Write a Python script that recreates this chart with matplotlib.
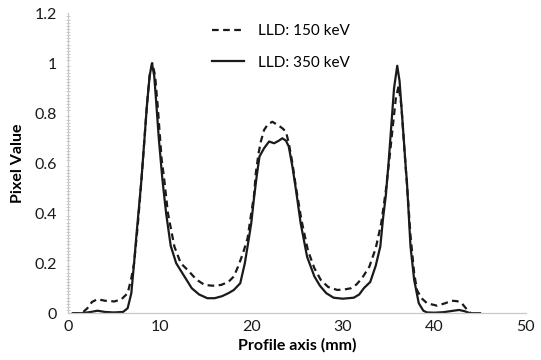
import numpy as np
import matplotlib
matplotlib.use('Agg')
from matplotlib import pyplot as plt
from matplotlib.ticker import MultipleLocator

plt.rcParams['font.family'] = ['Lato', 'DejaVu Sans']

# profile positions (mm) and pixel values, LLD 350 keV
x_350 = [0.5, 1.5, 2.5, 3.2, 4.0, 5.0, 6.0, 6.5, 6.9, 7.2, 7.5, 7.8, 8.0, 8.3, 8.6,
         8.9, 9.15, 9.4, 9.6, 9.9, 10.3, 10.7, 11.2, 11.8, 12.7, 13.5, 14.3, 15.2,
         16.0, 16.8, 17.5, 18.1, 18.8, 19.3, 19.7, 20.0, 20.3, 20.6, 20.9, 21.4,
         21.95, 22.5, 23.0, 23.4, 23.8, 24.1, 24.5, 24.9, 25.4, 26.1, 26.9, 27.5,
         28.2, 29.0, 30.0, 31.2, 31.8, 32.3, 33.0, 33.6, 34.1, 34.4, 34.7, 35.0,
         35.3, 35.6, 35.95, 36.2, 36.5, 36.9, 37.0, 37.4, 37.8, 38.3, 38.8, 39.2,
         40.0, 41.0, 42.1, 42.7, 43.3, 43.9, 45.0]
y_350 = [0.0, 0.0, 0.005, 0.01, 0.005, 0.003, 0.005, 0.02, 0.08, 0.2, 0.33, 0.45,
         0.533, 0.68, 0.83, 0.95, 1.0, 0.95, 0.853, 0.7, 0.533, 0.4, 0.27, 0.2,
         0.147, 0.1, 0.075, 0.06, 0.06, 0.068, 0.08, 0.093, 0.12, 0.2, 0.29, 0.36,
         0.46, 0.55, 0.627, 0.66, 0.687, 0.68, 0.69, 0.70, 0.69, 0.667, 0.586,
         0.49, 0.36, 0.226, 0.147, 0.11, 0.08, 0.062, 0.058, 0.062, 0.075, 0.1,
         0.125, 0.19, 0.267, 0.38, 0.47, 0.6, 0.75, 0.9, 0.99, 0.93, 0.78, 0.573,
         0.53, 0.267, 0.133, 0.04, 0.01, 0.003, 0.002, 0.004, 0.01, 0.013, 0.008,
         0.0, 0.0]

# LLD 150 keV
x_150 = [0.5, 1.5, 2.1, 2.6, 3.2, 4.0, 5.05, 5.8, 6.5, 6.9, 7.2, 7.6, 8.0, 8.3,
         8.6, 8.9, 9.2, 9.5, 9.8, 10.2, 10.5, 10.9, 11.6, 12.3, 13.05, 14.0, 14.9,
         15.8, 16.7, 17.5, 18.1, 18.6, 19.1, 19.6, 20.0, 20.3, 20.5, 20.8, 21.05,
         21.4, 21.8, 22.3, 22.9, 23.4, 23.8, 24.1, 24.5, 24.9, 25.5, 26.2, 26.9,
         27.6, 28.4, 29.4, 30.2, 30.9, 31.5, 32.1, 32.9, 33.6, 34.2, 34.7, 35.1,
         35.5, 35.8, 36.1, 36.4, 36.8, 37.1, 37.4, 37.8, 38.1, 38.6, 39.2, 40.3,
         41.2, 41.9, 42.5, 43.0, 43.6, 44.0]
y_150 = [0.0, 0.0, 0.02, 0.045, 0.056, 0.05, 0.047, 0.055, 0.08, 0.14, 0.2, 0.35,
         0.53, 0.68, 0.83, 0.95, 1.0, 0.95, 0.82, 0.62, 0.533, 0.4, 0.267, 0.2,
         0.173, 0.135, 0.113, 0.11, 0.113, 0.125, 0.147, 0.19, 0.24, 0.3, 0.4,
         0.47, 0.56, 0.64, 0.687, 0.733, 0.755, 0.766, 0.753, 0.74, 0.726, 0.68,
         0.6, 0.5, 0.37, 0.25, 0.18, 0.133, 0.105, 0.093, 0.095, 0.1, 0.115, 0.14,
         0.186, 0.26, 0.36, 0.49, 0.62, 0.76, 0.86, 0.91, 0.83, 0.62, 0.47, 0.31,
         0.16, 0.093, 0.06, 0.04, 0.03, 0.04, 0.05, 0.048, 0.04, 0.013, 0.0]

x_ticks = [0, 10, 20, 30, 40, 50]
y_ticks = [0, 0.2, 0.4, 0.6, 0.8, 1, 1.2]
y_tick_labels = ['0', '0.2', '0.4', '0.6', '0.8', '1', '1.2']

fig = plt.figure(figsize=(5.41, 3.6), dpi=100)
ax = fig.add_axes([0.126, 0.13, 0.846, 0.833])

ax.plot(x_150, y_150, color='#1a1a1a', lw=1.6, dashes=(3, 2), label='LLD: 150 keV')
ax.plot(x_350, y_350, color='#1a1a1a', lw=1.6, label='LLD: 350 keV')

ax.set_xlim(0, 50)
ax.set_ylim(0, 1.2)
ax.set_xticks(x_ticks)
ax.set_yticks(y_ticks)
ax.set_yticklabels(y_tick_labels)
ax.yaxis.set_minor_locator(MultipleLocator(0.0125))

for side in ('top', 'right'):
    ax.spines[side].set_visible(False)
for side in ('left', 'bottom'):
    ax.spines[side].set_color('#c8c8c8')
    ax.spines[side].set_linewidth(0.9)

ax.tick_params(axis='x', length=0, pad=5, labelsize=11.5, colors='#1a1a1a')
ax.tick_params(axis='y', which='major', length=0, pad=8, labelsize=11.5, colors='#1a1a1a')
ax.tick_params(axis='y', which='minor', length=3, width=0.6, color='#c8c8c8', direction='inout')

ax.set_xlabel('Profile axis (mm)', fontsize=11.5, fontweight='bold', labelpad=3)
ax.set_ylabel('Pixel Value', fontsize=11.5, fontweight='bold', labelpad=7)

ax.legend(loc='upper left', bbox_to_anchor=(0.285, 1.01), frameon=False,
          fontsize=11, handlelength=2.1, handletextpad=0.9, labelspacing=1.15)

fig.savefig('out.png', dpi=100)
